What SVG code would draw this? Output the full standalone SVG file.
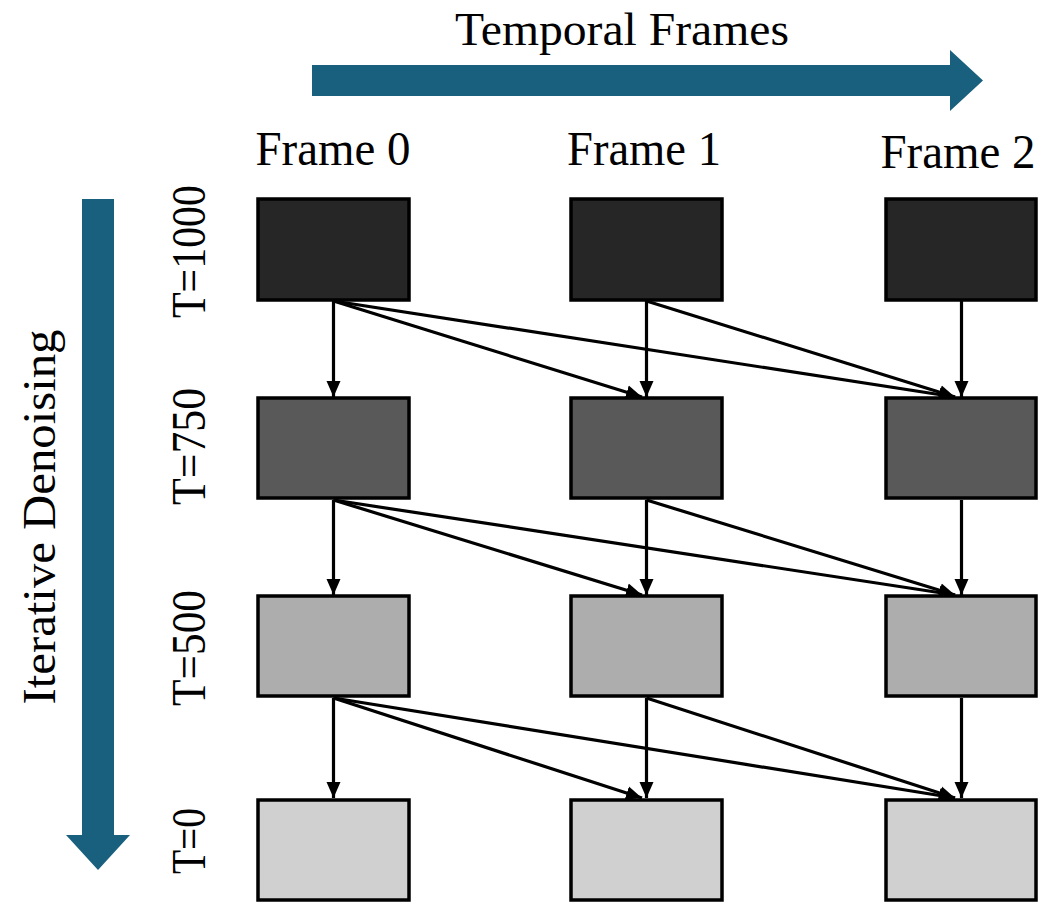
<svg xmlns="http://www.w3.org/2000/svg" width="1038" height="902" viewBox="0 0 1038 902">
  <style>
    .lbl { font-family: "Liberation Serif", "DejaVu Serif", serif; fill: #000; }
    .box { stroke: #000; stroke-width: 3.5; }
    .t1000 { fill: #262626; }
    .t750 { fill: #595959; }
    .t500 { fill: #adadad; }
    .t0 { fill: #d0d0d0; }
    .edge { stroke: #000; stroke-width: 3.2; fill: none; marker-end: url(#head); }
    .big { fill: #19607f; }
  </style>
  <defs>
    <marker id="head" markerUnits="userSpaceOnUse" markerWidth="17" markerHeight="17" viewBox="0 0 17 17" refX="16" refY="8.5" orient="auto">
      <path d="M0,1.5 L16,8.5 L0,15.5 Z" fill="#000"/>
    </marker>
  </defs>
  <rect width="1038" height="902" fill="#fff"/>

  <!-- axis arrows -->
  <g id="axis-time">
    <path class="big" d="M312,65 H950 V50 L983,80.5 L950,111 V96 H312 Z"/>
    <text class="lbl" x="622" y="45" font-size="47" text-anchor="middle" textLength="334" lengthAdjust="spacingAndGlyphs">Temporal Frames</text>
  </g>
  <g id="axis-denoise">
    <path class="big" d="M82,199 H114 V835 H130 L98,870 L66,835 H82 Z"/>
    <text class="lbl" transform="translate(55,517) rotate(-90)" font-size="47" text-anchor="middle" textLength="375" lengthAdjust="spacingAndGlyphs">Iterative Denoising</text>
  </g>

  <!-- column headers -->
  <g id="headers">
    <text class="lbl" x="333" y="165" font-size="48" text-anchor="middle" textLength="155" lengthAdjust="spacingAndGlyphs">Frame 0</text>
    <text class="lbl" x="644" y="165" font-size="48" text-anchor="middle" textLength="154" lengthAdjust="spacingAndGlyphs">Frame 1</text>
    <text class="lbl" x="958" y="168" font-size="48" text-anchor="middle" textLength="155" lengthAdjust="spacingAndGlyphs">Frame 2</text>
  </g>

  <!-- row labels -->
  <g id="row-labels">
    <text class="lbl" transform="translate(205,251.5) rotate(-90)" font-size="48" text-anchor="middle" textLength="133" lengthAdjust="spacingAndGlyphs">T=1000</text>
    <text class="lbl" transform="translate(205,446.5) rotate(-90)" font-size="48" text-anchor="middle" textLength="117" lengthAdjust="spacingAndGlyphs">T=750</text>
    <text class="lbl" transform="translate(205,648) rotate(-90)" font-size="48" text-anchor="middle" textLength="116" lengthAdjust="spacingAndGlyphs">T=500</text>
    <text class="lbl" transform="translate(205,841) rotate(-90)" font-size="48" text-anchor="middle" textLength="66" lengthAdjust="spacingAndGlyphs">T=0</text>
  </g>

  <!-- connectors -->
  <g id="connectors">
    <!-- T=1000 -> T=750 -->
    <line class="edge" x1="333.5" y1="301" x2="333.5" y2="397"/>
    <line class="edge" x1="333.5" y1="301" x2="642" y2="397"/>
    <line class="edge" x1="333.5" y1="301" x2="955" y2="397"/>
    <line class="edge" x1="646.5" y1="301" x2="646.5" y2="397"/>
    <line class="edge" x1="646.5" y1="301" x2="955" y2="397"/>
    <line class="edge" x1="961.5" y1="301" x2="961.5" y2="397"/>
    <!-- T=750 -> T=500 -->
    <line class="edge" x1="333.5" y1="500" x2="333.5" y2="595"/>
    <line class="edge" x1="333.5" y1="500" x2="642" y2="595"/>
    <line class="edge" x1="333.5" y1="500" x2="955" y2="595"/>
    <line class="edge" x1="646.5" y1="500" x2="646.5" y2="595"/>
    <line class="edge" x1="646.5" y1="500" x2="955" y2="595"/>
    <line class="edge" x1="961.5" y1="500" x2="961.5" y2="595"/>
    <!-- T=500 -> T=0 -->
    <line class="edge" x1="333.5" y1="698" x2="333.5" y2="798"/>
    <line class="edge" x1="333.5" y1="698" x2="642" y2="798"/>
    <line class="edge" x1="333.5" y1="698" x2="955" y2="798"/>
    <line class="edge" x1="646.5" y1="698" x2="646.5" y2="798"/>
    <line class="edge" x1="646.5" y1="698" x2="955" y2="798"/>
    <line class="edge" x1="961.5" y1="698" x2="961.5" y2="798"/>
  </g>

  <!-- nodes -->
  <g id="f0-t1000"><rect class="box t1000" x="258" y="199" width="151" height="101"/></g>
  <g id="f1-t1000"><rect class="box t1000" x="571" y="199" width="151" height="101"/></g>
  <g id="f2-t1000"><rect class="box t1000" x="886" y="199" width="150" height="101"/></g>

  <g id="f0-t750"><rect class="box t750" x="258" y="398" width="151" height="100"/></g>
  <g id="f1-t750"><rect class="box t750" x="571" y="398" width="151" height="100"/></g>
  <g id="f2-t750"><rect class="box t750" x="886" y="398" width="150" height="100"/></g>

  <g id="f0-t500"><rect class="box t500" x="258" y="596" width="151" height="100"/></g>
  <g id="f1-t500"><rect class="box t500" x="571" y="596" width="151" height="100"/></g>
  <g id="f2-t500"><rect class="box t500" x="886" y="596" width="150" height="100"/></g>

  <g id="f0-t0"><rect class="box t0" x="258" y="800" width="151" height="100"/></g>
  <g id="f1-t0"><rect class="box t0" x="571" y="800" width="151" height="100"/></g>
  <g id="f2-t0"><rect class="box t0" x="886" y="800" width="150" height="100"/></g>
</svg>
